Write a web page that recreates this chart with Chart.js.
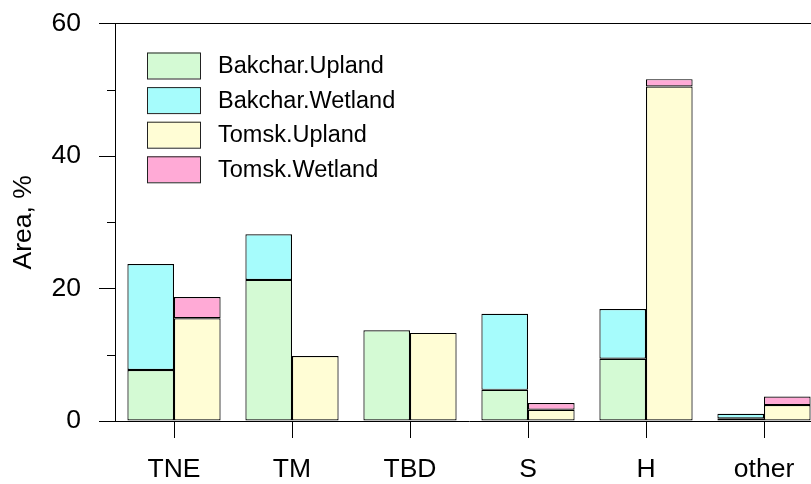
<!DOCTYPE html>
<html>
<head>
<meta charset="utf-8">
<script src="https://cdn.jsdelivr.net/npm/chart.js@4"></script>
<style>
  html, body { margin: 0; padding: 0; background: #fff; overflow: hidden; width: 811px; height: 484px; }
  #wrap { width: 830px; height: 484px; }
</style>
</head>
<body>
<div id="wrap"><canvas id="area_chart" width="830" height="484"></canvas></div>
<script>
var categories = ['TNE', 'TM', 'TBD', 'S', 'H', 'other'];

var bakchar_upland  = [7.7, 21.3, 13.7, 4.7, 9.4, 0.4];
var bakchar_wetland = [16.0, 6.9, 0, 11.5, 7.5, 0.7];
var tomsk_upland    = [15.5, 9.8, 13.3, 1.7, 50.5, 2.4];
var tomsk_wetland   = [3.2, 0, 0, 1.0, 1.1, 1.3];

var minor_ticks = [10, 30, 50];

Chart.defaults.font.family = "'Liberation Sans', Arial, sans-serif";
Chart.defaults.color = '#000';

function makeSet(label, values, stack, color) {
    return {
        label: label,
        data: values,
        stack: stack,
        backgroundColor: color,
        borderColor: '#000',
        borderWidth: 1.2,
        borderSkipped: false,
        categoryPercentage: 0.79,
        barPercentage: 1.0
    };
}

// frame top line, minor y ticks and the legend box inside the plot
var framePlugin = {
    id: 'frame',
    afterDraw: function(chart) {
        var ctx = chart.ctx;
        var area = chart.chartArea;
        var y = chart.scales.y;
        ctx.save();
        ctx.strokeStyle = '#000';
        ctx.lineWidth = 1;
        ctx.beginPath();
        ctx.moveTo(area.left, area.top);
        ctx.lineTo(area.right, area.top);
        minor_ticks.forEach(function(v) {
            var py = Math.round(y.getPixelForValue(v)) + 0.5;
            ctx.moveTo(area.left - 8, py);
            ctx.lineTo(area.left, py);
        });
        ctx.stroke();

        var x0 = area.left + 32, y0 = area.top + 29;
        ctx.font = "23.5px 'Liberation Sans', Arial, sans-serif";
        ctx.textBaseline = 'middle';
        chart.data.datasets.forEach(function(ds, i) {
            var by = y0 + i * 34.6;
            ctx.fillStyle = ds.backgroundColor;
            ctx.fillRect(x0, by, 53, 26);
            ctx.strokeStyle = '#222';
            ctx.strokeRect(x0 + 0.5, by + 0.5, 53, 26);
            ctx.fillStyle = '#000';
            ctx.fillText(ds.label, x0 + 71, by + 14);
        });
        ctx.restore();
    }
};

var ctx = document.getElementById('area_chart').getContext('2d');
var areaChart = new Chart(ctx, {
    type: 'bar',
    data: {
        labels: categories,
        datasets: [
            makeSet('Bakchar.Upland', bakchar_upland, 'Bakchar', '#d4fad4'),
            makeSet('Bakchar.Wetland', bakchar_wetland, 'Bakchar', '#a6fcfc'),
            makeSet('Tomsk.Upland', tomsk_upland, 'Tomsk', '#fffdd5'),
            makeSet('Tomsk.Wetland', tomsk_wetland, 'Tomsk', '#ffaad6')
        ]
    },
    options: {
        responsive: false,
        animation: false,
        events: [],
        layout: {
            padding: { left: 0, right: 7, top: 23.5, bottom: 0 }
        },
        scales: {
            x: {
                stacked: true,
                afterFit: function(scale) { scale.height = 63; },
                grid: {
                    offset: false,
                    drawOnChartArea: false,
                    tickLength: 17,
                    color: '#000'
                },
                border: { color: '#000' },
                ticks: {
                    padding: 16,
                    font: { size: 26.5 }
                }
            },
            y: {
                stacked: true,
                min: 0,
                max: 60,
                afterFit: function(scale) {
                    scale.width = 115;
                    scale.paddingTop = 0;
                    scale.paddingBottom = 0;
                },
                grid: {
                    drawOnChartArea: false,
                    tickLength: 16,
                    color: '#000'
                },
                border: { color: '#000' },
                ticks: {
                    stepSize: 20,
                    padding: 18,
                    font: { size: 26.5 }
                },
                title: {
                    display: true,
                    text: 'Area, %',
                    font: { size: 26.5 },
                    padding: { top: 8, bottom: 13 }
                }
            }
        },
        plugins: {
            legend: { display: false },
            tooltip: { enabled: false }
        }
    },
    plugins: [framePlugin]
});
</script>
</body>
</html>
